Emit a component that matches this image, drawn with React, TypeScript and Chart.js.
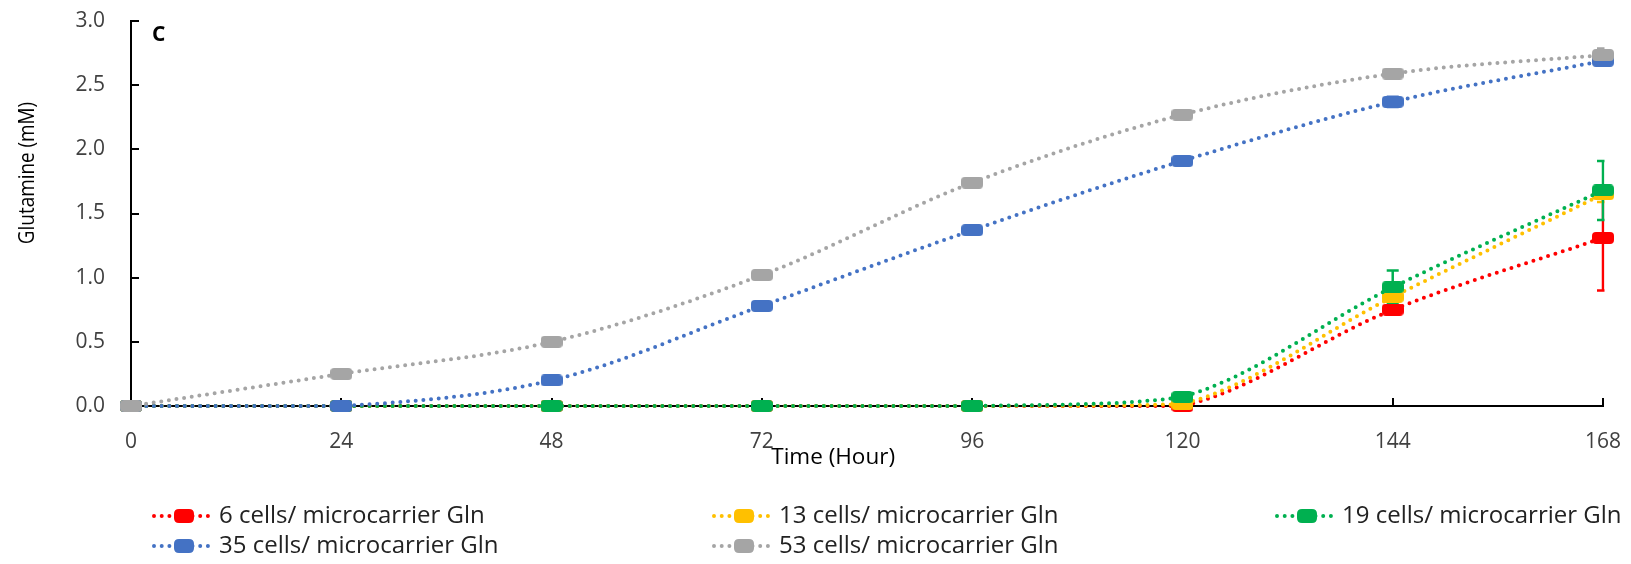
import { useEffect, useRef } from "react";
import { Chart, registerables } from "chart.js";

Chart.register(...registerables);

// Sampling times (hours) and glutamine concentration (mM) per seeding density
const hours = [0, 24, 48, 72, 96, 120, 144, 168];
const gln6 = [0, 0, 0, 0, 0, 0, 0.75, 1.31];
const gln13 = [0, 0, 0, 0, 0, 0.015, 0.85, 1.65];
const gln19 = [0, 0, 0, 0, 0, 0.07, 0.925, 1.68];
const gln35 = [0, 0, 0.2, 0.78, 1.37, 1.91, 2.37, 2.69];
const gln53 = [0, 0.25, 0.5, 1.02, 1.74, 2.27, 2.59, 2.735];

// Standard deviations (mM)
const err6 = [0, 0, 0, 0, 0, 0, 0, 0.41];
const err13 = [0, 0, 0, 0, 0, 0, 0.04, 0.06];
const err19 = [0, 0, 0, 0, 0, 0.03, 0.13, 0.23];
const err35 = [0, 0, 0, 0, 0, 0, 0.04, 0.03];
const err53 = [0, 0, 0, 0, 0, 0, 0, 0.05];

const seriesLabels = [
  "6 cells/ microcarrier Gln",
  "13 cells/ microcarrier Gln",
  "19 cells/ microcarrier Gln",
  "35 cells/ microcarrier Gln",
  "53 cells/ microcarrier Gln",
];
const seriesColors = ["#FF0000", "#FFC000", "#00B050", "#4472C4", "#A5A5A5"];
const seriesValues = [gln6, gln13, gln19, gln35, gln53];
const seriesErrors = [err6, err13, err19, err35, err53];

const yTickValues = [0, 0.5, 1, 1.5, 2, 2.5, 3];
const xTitle = "Time (Hour)";
const yTitle = "Glutamine (mM)";
const panelLetter = "C";

const FONT = "'Open Sans', 'DejaVu Sans', sans-serif";
const DOT_DASH = [0, 7.7];

function markerImage(color: string, w: number, h: number, r: number) {
  const c = document.createElement("canvas");
  c.width = w;
  c.height = h;
  const ctx = c.getContext("2d")!;
  ctx.fillStyle = color;
  ctx.beginPath();
  ctx.moveTo(r, 0);
  ctx.lineTo(w - r, 0);
  ctx.quadraticCurveTo(w, 0, w, r);
  ctx.lineTo(w, h - r);
  ctx.quadraticCurveTo(w, h, w - r, h);
  ctx.lineTo(r, h);
  ctx.quadraticCurveTo(0, h, 0, h - r);
  ctx.lineTo(0, r);
  ctx.quadraticCurveTo(0, 0, r, 0);
  ctx.closePath();
  ctx.fill();
  return c;
}

// Error bars, drawn under the lines and markers, clipped at the plot edges
const errorBarPlugin = {
  id: "errorBars",
  beforeDatasetsDraw(chart: any) {
    const { ctx, chartArea, scales } = chart;
    const xs = scales.x;
    const ys = scales.y;
    ctx.save();
    ctx.beginPath();
    ctx.rect(chartArea.left - 20, chartArea.top - 20, chartArea.right - chartArea.left + 21.5, chartArea.bottom - chartArea.top + 40);
    ctx.clip();
    seriesValues.forEach((vals, i) => {
      const errs = seriesErrors[i];
      ctx.strokeStyle = seriesColors[i];
      ctx.lineWidth = 2.5;
      vals.forEach((v, j) => {
        const e = errs[j];
        if (!e) return;
        const x = xs.getPixelForValue(hours[j]);
        const yt = ys.getPixelForValue(v + e);
        const yb = ys.getPixelForValue(v - e);
        ctx.beginPath();
        ctx.moveTo(x, yt);
        ctx.lineTo(x, yb);
        ctx.moveTo(x - 6, yt);
        ctx.lineTo(x + 6, yt);
        ctx.moveTo(x - 6, yb);
        ctx.lineTo(x + 6, yb);
        ctx.stroke();
      });
    });
    ctx.restore();
  },
};

// Inward tick marks on both axes
const innerTicksPlugin = {
  id: "innerTicks",
  beforeDatasetsDraw(chart: any) {
    const { ctx, chartArea, scales } = chart;
    ctx.save();
    ctx.strokeStyle = "#000";
    ctx.lineWidth = 2;
    ctx.beginPath();
    hours.forEach((h) => {
      const x = Math.round(scales.x.getPixelForValue(h));
      ctx.moveTo(x, chartArea.bottom);
      ctx.lineTo(x, chartArea.bottom - 8);
    });
    yTickValues.forEach((v) => {
      const y = Math.round(scales.y.getPixelForValue(v));
      ctx.moveTo(chartArea.left, y);
      ctx.lineTo(chartArea.left + 8, y);
    });
    ctx.stroke();
    ctx.restore();
  },
};

// Axis titles, panel letter and the two-row legend
function makeTextPlugin(markers: HTMLCanvasElement[]) {
  return {
    id: "texts",
    afterDraw(chart: any) {
      const { ctx, chartArea } = chart;
      ctx.save();
      ctx.fillStyle = "#000";
      ctx.font = `22.5px ${FONT}`;
      ctx.textAlign = "center";
      ctx.textBaseline = "middle";
      ctx.fillText(xTitle, chartArea.left + (chartArea.right - chartArea.left) * 0.477, 458);

      ctx.save();
      ctx.font = `21px ${FONT}`;
      ctx.translate(28, 173);
      ctx.rotate(-Math.PI / 2);
      ctx.scale(0.9, 1);
      ctx.fillText(yTitle, 0, 0);
      ctx.restore();

      ctx.font = `bold 21px ${FONT}`;
      ctx.textAlign = "left";
      ctx.fillText(panelLetter, 152, 35);

      const cols = [151, 711, 1274];
      const rows = [516, 546];
      ctx.font = `24px ${FONT}`;
      seriesLabels.forEach((label, i) => {
        const x0 = cols[i % 3];
        const y0 = rows[Math.floor(i / 3)];
        ctx.save();
        ctx.strokeStyle = seriesColors[i];
        ctx.lineWidth = 4;
        ctx.lineCap = "round";
        ctx.setLineDash(DOT_DASH);
        ctx.beginPath();
        ctx.moveTo(x0 + 3, y0);
        ctx.lineTo(x0 + 62, y0);
        ctx.stroke();
        ctx.restore();
        const m = markers[i];
        ctx.drawImage(m, x0 + 33 - m.width / 2, y0 - m.height / 2);
        ctx.fillStyle = "#222";
        ctx.textAlign = "left";
        ctx.fillText(label, x0 + 68, y0);
      });
      ctx.restore();
    },
  };
}

export default function App() {
  const ref = useRef<HTMLCanvasElement>(null);

  useEffect(() => {
    const canvas = ref.current;
    if (!canvas) return;
    const pointImages = seriesColors.map((c) => markerImage(c, 22, 12, 4));
    const legendImages = seriesColors.map((c) => markerImage(c, 20, 14, 5));

    const datasets = seriesLabels.map((label, i) => ({
      label,
      data: hours.map((h, j) => ({ x: h, y: seriesValues[i][j] })),
      borderColor: seriesColors[i],
      backgroundColor: seriesColors[i],
      borderWidth: 4,
      borderDash: DOT_DASH,
      borderCapStyle: "round" as const,
      tension: 0.33,
      pointStyle: pointImages[i],
      pointRadius: 6,
      pointHoverRadius: 6,
      clip: false as const,
      order: 5 - i,
    }));

    const chart = new Chart(canvas, {
      type: "line",
      data: { datasets },
      plugins: [errorBarPlugin, innerTicksPlugin, makeTextPlugin(legendImages)],
      options: {
        animation: false,
        responsive: false,
        devicePixelRatio: 1,
        events: [],
        layout: { padding: { top: 21, right: 28, bottom: 0, left: 0 } },
        plugins: {
          legend: { display: false },
          tooltip: { enabled: false },
          title: { display: false },
        },
        scales: {
          x: {
            type: "linear",
            min: 0,
            max: 168,
            afterBuildTicks: (s: any) => {
              s.ticks = hours.map((v) => ({ value: v }));
            },
            afterFit: (s: any) => {
              s.height = 158;
              s.paddingLeft = 0;
              s.paddingRight = 0;
            },
            grid: { display: false, drawTicks: false },
            border: { display: true, color: "#000", width: 2 },
            ticks: {
              font: { family: FONT, size: 21 },
              color: "#404040",
              padding: 23,
              maxRotation: 0,
              autoSkip: false,
            },
          },
          y: {
            type: "linear",
            min: 0,
            max: 3,
            afterBuildTicks: (s: any) => {
              s.ticks = yTickValues.map((v) => ({ value: v }));
            },
            afterFit: (s: any) => {
              s.width = 131;
              s.paddingTop = 0;
              s.paddingBottom = 0;
            },
            grid: { display: false, drawTicks: false },
            border: { display: true, color: "#000", width: 2 },
            ticks: {
              font: { family: FONT, size: 21 },
              color: "#404040",
              padding: 26,
              callback: (v: any) => Number(v).toFixed(1),
            },
          },
        },
      },
    } as any);

    return () => chart.destroy();
  }, []);

  return (
    <div style={{ position: "fixed", left: 0, top: 0, width: 1631, height: 564, background: "#fff" }}>
      <canvas ref={ref} width={1631} height={564} style={{ display: "block", width: 1631, height: 564 }} />
    </div>
  );
}
